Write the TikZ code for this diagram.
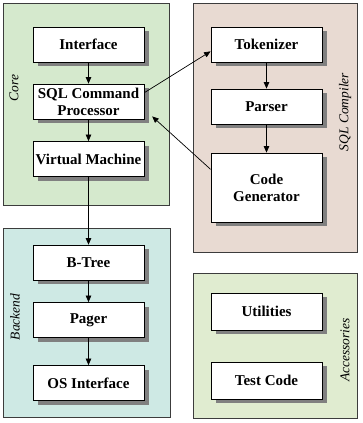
\documentclass[tikz,border=0pt]{standalone}
\usepackage{fontspec}
\setmainfont{Liberation Serif}
\usetikzlibrary{arrows.meta,shadows}
\definecolor{coregreen}{RGB}{213,233,205}
\definecolor{compilerrose}{RGB}{232,218,210}
\definecolor{backendcyan}{RGB}{206,233,228}
\definecolor{accessgreen}{RGB}{224,236,208}
\definecolor{shadowgray}{RGB}{128,128,128}
\definecolor{framegray}{RGB}{60,60,60}
\begin{document}
\begin{tikzpicture}[x=1pt,y=-1pt,
  layer/.style={draw=framegray, line width=0.8pt},
  part/.style={draw=black, line width=0.8pt, fill=white,
    minimum width=111pt, minimum height=35pt, inner sep=2pt, align=center,
    font=\fontsize{15}{17}\selectfont\bfseries,
    general shadow={fill=shadowgray, shadow xshift=5pt, shadow yshift=-4pt}},
  tag/.style={rotate=90, font=\fontsize{13.5}{15}\selectfont\itshape},
  flow/.style={-{Triangle[length=6.5pt,width=5.5pt]}, line width=0.7pt}
]
\useasboundingbox (0,0) rectangle (363,423);

% layer backgrounds
\path[layer, fill=coregreen]    (3,3)     rectangle (169,205);
\path[layer, fill=compilerrose] (193,3)   rectangle (357,252);
\path[layer, fill=backendcyan]  (3,228)   rectangle (170,417);
\path[layer, fill=accessgreen]  (193,273) rectangle (357,418);

% layer names
\node[tag] (coretag) at (14,88)  {Core};
\node[tag] (backtag) at (15,317) {Backend};
\node[tag] (comptag) at (345,112) {SQL Compiler};
\node[tag] (acctag)  at (345,350) {Accessories};

% core
\node[part] (iface) at (88.5,44.5)  {Interface};
\node[part] (sql)   at (88.5,101.5) {SQL Command\\Processor};
\node[part] (vm)    at (88.5,159)   {Virtual Machine};

% sql compiler
\node[part] (tok)    at (266.5,44.5)  {Tokenizer};
\node[part] (parser) at (266.5,106.5) {Parser};
\node[part, minimum height=69pt] (cg) at (266.5,187.5) {Code\\Generator};

% backend
\node[part] (btree) at (88.5,262.5) {B-Tree};
\node[part] (pager) at (88.5,320)   {Pager};
\node[part] (os)    at (88.5,383)   {OS Interface};

% accessories
\node[part, minimum height=37pt] (util) at (266.5,311.5) {Utilities};
\node[part, minimum height=37pt] (test) at (266.5,380.5) {Test Code};

% connectors
\draw[flow] (iface.south) -- (sql.north);
\draw[flow] (sql.south) -- (vm.north);
\draw[flow] (tok.south) -- (parser.north);
\draw[flow] (parser.south) -- (cg.north);
\draw[flow] (vm.south) -- (btree.north);
\draw[flow] (btree.south) -- (pager.north);
\draw[flow] (pager.south) -- (os.north);
\draw[flow] (sql.9) -- (tok.187);
\draw[flow, shorten >=10.5pt] (cg.162) -- (sql.-8);
\end{tikzpicture}
\end{document}
